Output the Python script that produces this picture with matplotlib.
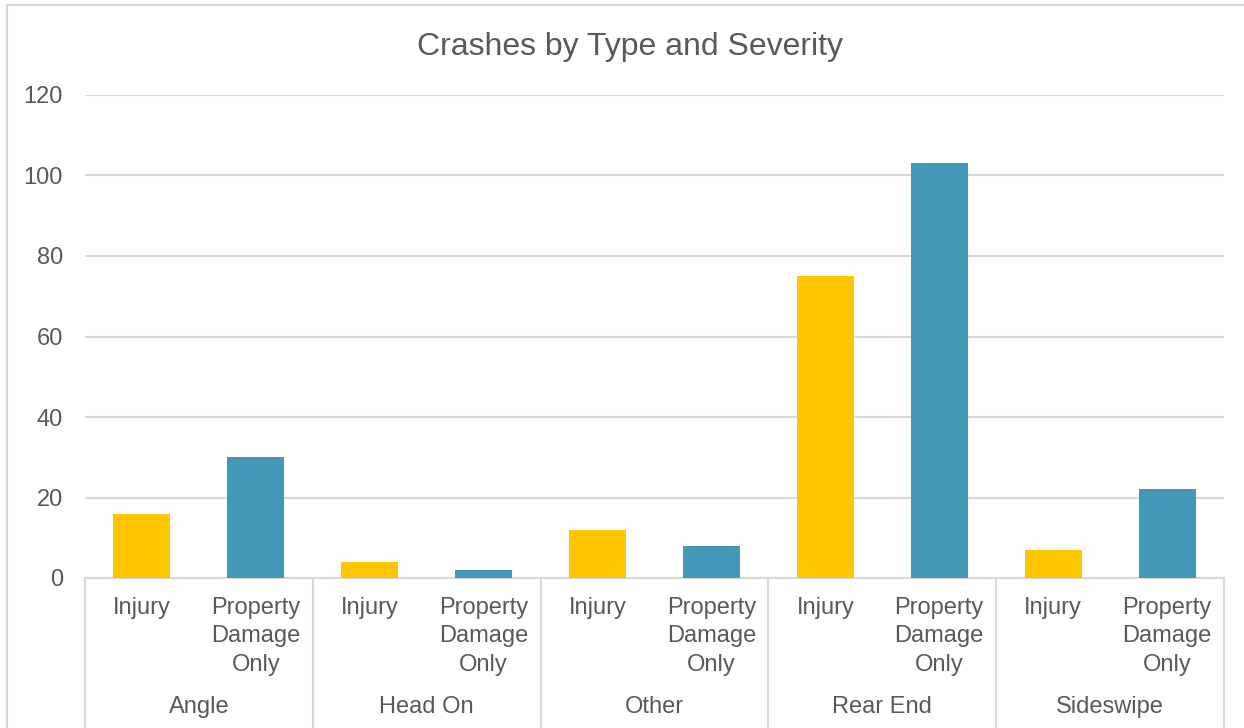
import matplotlib.pyplot as plt
import matplotlib.patches as mpatches
import matplotlib.transforms as mtransforms

plt.rcParams['font.family'] = ['Liberation Sans', 'DejaVu Sans']

crash_types = ["Angle", "Head On", "Other", "Rear End", "Sideswipe"]
severities = ["Injury", "Property\nDamage\nOnly"]
injury = [16, 4, 12, 75, 7]
property_damage = [30, 2, 8, 103, 22]

yellow = '#FFC600'
teal = '#4398B7'
text_col = '#595959'
grid_col = '#D9D9D9'

fig = plt.figure(figsize=(12.44, 7.28), dpi=100)
ax = fig.add_axes([85/1244, 1-578/728, (1224-85)/1244, (578-95)/728])

# outer chart border
fig.patches.append(mpatches.Rectangle((7/1244, -0.05), 1.2, 1-5/728+0.05, transform=fig.transFigure,
                                      fill=False, edgecolor=grid_col, linewidth=1.5))

x_inj = [2*i for i in range(len(crash_types))]
x_pdo = [2*i+1 for i in range(len(crash_types))]
ax.bar(x_inj, injury, width=0.5, color=yellow, zorder=3)
ax.bar(x_pdo, property_damage, width=0.5, color=teal, zorder=3)

ax.set_xlim(-0.5, 2*len(crash_types)-0.5)
ax.set_ylim(0, 120)
ax.set_yticks(range(0, 121, 20))
ax.yaxis.grid(True, color=grid_col, linewidth=1.5, zorder=0)
ax.tick_params(axis='y', length=0, pad=16, labelsize=17, labelcolor=text_col)
for s in ['top', 'right', 'left']:
    ax.spines[s].set_visible(False)
ax.spines['bottom'].set_color(grid_col)
ax.spines['bottom'].set_linewidth(1.5)
ax.set_xticks([])

# multi-level category labels
trans = mtransforms.blended_transform_factory(ax.transData, ax.transAxes)
for i, t in enumerate(crash_types):
    for j, s in enumerate(severities):
        ax.text(2*i+j, -0.039, s, transform=trans, ha='center', va='top',
                fontsize=17, color=text_col, linespacing=1.38)
    ax.text(2*i+0.5, -0.245, t, transform=trans, ha='center', va='top',
            fontsize=17, color=text_col)
for k in range(len(crash_types)+1):
    ax.plot([2*k-0.5, 2*k-0.5], [0, -0.31], transform=trans, color=grid_col,
            linewidth=1.5, clip_on=False)

fig.text(630/1244, 1-47/728, "Crashes by Type and Severity", ha='center', va='center',
         fontsize=23, color=text_col)

fig.savefig("out.png", dpi=100)
